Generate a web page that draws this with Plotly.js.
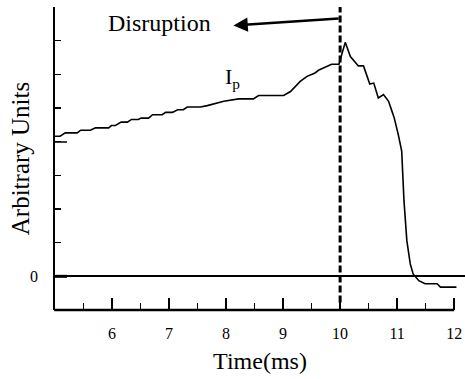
<!DOCTYPE html>
<html>
<head>
<meta charset="utf-8">
<script src="https://cdn.plot.ly/plotly-3.0.1.min.js"></script>
<style>html,body{margin:0;padding:0;background:#fff;}#chart{width:465px;height:379px;}</style>
</head>
<body>
<div id="chart"></div>
<script>
// Plasma current trace (arbitrary units) vs time (ms)
var timeMs = [5.00, 5.09, 5.18, 5.39, 5.45, 5.62, 5.71, 5.94, 5.99, 6.06, 6.16, 6.27, 6.34, 6.46, 6.51, 6.64, 6.71, 6.88, 6.94, 7.06, 7.15, 7.25, 7.32, 7.55, 7.67, 7.96, 8.22, 8.48, 8.57, 9.01, 9.13, 9.30, 9.42, 9.56, 9.62, 9.77, 9.85, 9.98, 10.09, 10.18, 10.32, 10.41, 10.52, 10.59, 10.67, 10.76, 10.85, 10.91, 10.95, 11.02, 11.08, 11.12, 11.17, 11.23, 11.28, 11.38, 11.49, 11.70, 11.76, 12.04];
var ipValues = [4.16, 4.16, 4.26, 4.26, 4.34, 4.34, 4.41, 4.41, 4.48, 4.48, 4.58, 4.58, 4.66, 4.66, 4.70, 4.70, 4.80, 4.80, 4.87, 4.87, 4.95, 4.95, 5.03, 5.03, 5.07, 5.20, 5.27, 5.27, 5.37, 5.37, 5.49, 5.79, 5.94, 6.04, 6.12, 6.23, 6.30, 6.30, 6.95, 6.53, 6.25, 6.25, 5.71, 5.74, 5.30, 5.40, 5.20, 4.90, 4.70, 4.21, 3.72, 2.24, 1.06, 0.37, 0.07, -0.13, -0.22, -0.22, -0.32, -0.32];
var xMajorTicks = [6, 7, 8, 9, 10, 11, 12];
var xTickLabels = ['6', '7', '8', '9', '10', '11', '12'];
var xMinorTicks = [5.5, 6.5, 7.5, 8.5, 9.5, 10.5, 11.5];
var yTicks = [0, 1, 2, 3, 4, 5, 6, 7];
var disruptionTime = 10;

var xRange = [5, 12.19];
var yRange = [-1, 8];
var FONT = 'Liberation Serif, Times New Roman, serif';
function xPaper(v){ return (v - xRange[0]) / (xRange[1] - xRange[0]); }
function yPaper(v){ return (v - yRange[0]) / (yRange[1] - yRange[0]); }

var trace = {
  x: timeMs, y: ipValues, type: 'scatter', mode: 'lines',
  line: {color: '#000', width: 1.6, shape: 'linear'},
  hoverinfo: 'skip'
};

var layout = {
  width: 465, height: 379,
  margin: {l: 55, r: 0, t: 7, b: 69, pad: 0},
  paper_bgcolor: '#fff', plot_bgcolor: '#fff',
  showlegend: false,
  font: {family: FONT, color: '#000'},
  xaxis: {
    range: xRange, showline: false, showgrid: false, zeroline: false,
    tickmode: 'array', tickvals: xMajorTicks, ticktext: xTickLabels,
    ticks: 'inside', ticklen: 12, tickwidth: 1.6, tickcolor: '#000',
    ticklabelstandoff: 12,
    minor: {tickmode: 'array', tickvals: xMinorTicks, ticks: 'inside', ticklen: 7, tickwidth: 1.6, tickcolor: '#000', showgrid: false},
    tickfont: {family: FONT, size: 16, color: '#000'},
    title: {text: 'Time(ms)', font: {family: FONT, size: 24, color: '#000'}, standoff: 11},
    fixedrange: true
  },
  yaxis: {
    range: yRange, showline: true, linewidth: 2, linecolor: '#000', mirror: false,
    showgrid: false, zeroline: true, zerolinewidth: 2, zerolinecolor: '#000',
    tickmode: 'array', tickvals: yTicks, ticks: 'inside', ticklen: 6, tickwidth: 1.6, tickcolor: '#000',
    showticklabels: false,
    title: {text: 'Arbitrary Units', font: {family: FONT, size: 25, color: '#000'}, standoff: 16},
    fixedrange: true
  },
  shapes: [
    // bottom axis line, ending at 12 ms
    {type: 'line', xref: 'paper', yref: 'paper', x0: xPaper(5) - 0.002, x1: xPaper(12), y0: yPaper(-1), y1: yPaper(-1), line: {color: '#000', width: 2.5}},
    // disruption marker
    {type: 'line', xref: 'paper', yref: 'paper', x0: xPaper(disruptionTime), x1: xPaper(disruptionTime), y0: yPaper(-0.78), y1: 1, line: {color: '#000', width: 3, dash: '7px,3px'}},
    // longer ticks at 0 and 4
    {type: 'line', xref: 'paper', yref: 'paper', x0: 0, x1: 12/410, y0: yPaper(0), y1: yPaper(0), line: {color: '#000', width: 3}},
    {type: 'line', xref: 'paper', yref: 'paper', x0: 0, x1: 12/410, y0: yPaper(3.99), y1: yPaper(3.99), line: {color: '#000', width: 1.5}}
  ],
  annotations: [
    {xref: 'paper', yref: 'paper', x: -15/410, y: yPaper(0), xanchor: 'right', yanchor: 'middle', text: '0', showarrow: false, font: {family: FONT, size: 16, color: '#000'}},
    {xref: 'x', yref: 'y', x: 8.12, y: 5.88, xanchor: 'center', yanchor: 'middle', text: 'I<sub>p</sub>', showarrow: false, font: {family: FONT, size: 22, color: '#000'}},
    {xref: 'paper', yref: 'paper', x: (159 - 55) / 410, y: 1 - (23 - 7) / 303, xanchor: 'center', yanchor: 'middle', text: 'Disruption', showarrow: false, font: {family: FONT, size: 24, color: '#000'}},
    {xref: 'x', yref: 'y', axref: 'x', ayref: 'y', x: 8.13, y: 7.45, ax: disruptionTime, ay: 7.66, text: '', showarrow: true, arrowhead: 2, arrowsize: 1.1, arrowwidth: 2.6, arrowcolor: '#000', standoff: 0, startstandoff: 0}
  ]
};

Plotly.newPlot('chart', [trace], layout, {displayModeBar: false, staticPlot: true});
</script>
</body>
</html>
